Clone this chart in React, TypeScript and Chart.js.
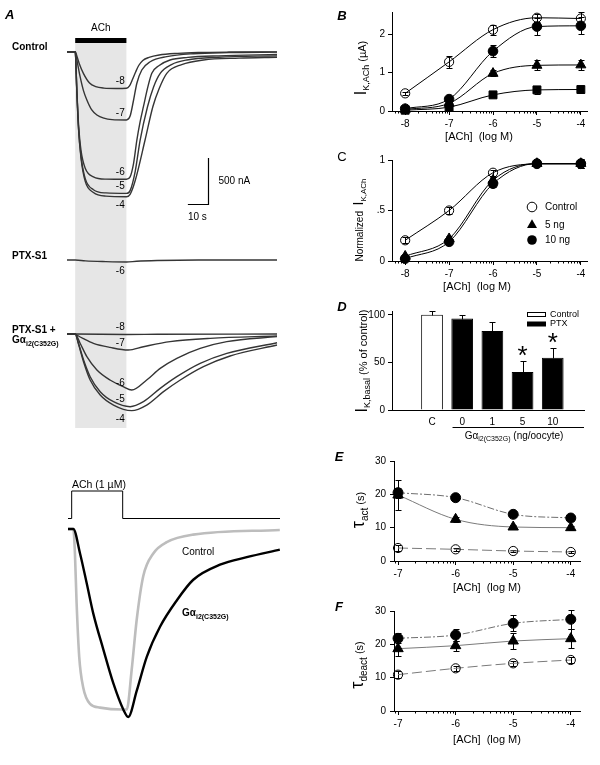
import React, { useEffect, useRef } from "react";
import { Chart, registerables } from "chart.js";

Chart.register(...registerables);

const FONT = "'Liberation Sans', Arial, Helvetica, sans-serif";

// ---------------- Panel A (top): ACh-evoked currents [time (s), current (nA)] ----------------
const achOn = 0;
const achOff = 25;
const tagTime = 22;
const ctrlM8 = [[-4, 0], [0, 0], [1, -60], [2, -130], [4, -235], [7, -340], [10, -380], [14, -396], [20, -400], [25, -398], [26.5, -372], [28, -300], [29.5, -220], [31, -150], [33, -95], [36, -62], [41, -36], [50, -18], [60, -9], [75, -4], [98.5, -2]];
const ctrlM7 = [[-4, 0], [0, 0], [1, -110], [2.4, -272], [4, -420], [5.7, -525], [8, -630], [10.6, -688], [14, -722], [18, -738], [25, -742], [26.8, -700], [28.5, -525], [30.1, -343], [32.5, -199], [36.6, -109], [44.7, -54], [57.7, -22], [75, -10], [98.5, -5]];
const ctrlM6 = [[-4, 0], [0, 0], [0.8, -416], [1.6, -778], [2.8, -1068], [4.9, -1268], [8.9, -1360], [15, -1385], [25, -1387], [26.8, -1360], [28.5, -1213], [30.1, -960], [31.7, -760], [33.3, -598], [35.5, -380], [37.4, -235], [41, -150], [46.3, -90], [55, -62], [70, -45], [98.5, -30]];
const ctrlM5 = [[-4, 0], [0, 0], [0.8, -430], [1.6, -820], [2.8, -1130], [4.9, -1380], [8.9, -1500], [15, -1535], [25, -1540], [26.8, -1510], [29.3, -1300], [31.7, -960], [35.3, -598], [38.3, -380], [41.5, -235], [47, -140], [54.5, -90], [70, -60], [98.5, -45]];
const ctrlM4 = [[-4, 0], [0, 0], [0.8, -430], [1.6, -830], [2.8, -1150], [4.9, -1410], [8.9, -1530], [15, -1570], [25, -1576], [26.8, -1550], [29.3, -1400], [34.1, -960], [37.9, -598], [41, -400], [44.7, -235], [52, -140], [62.6, -90], [80, -70], [98.5, -60]];
const controlTraces = [ctrlM8, ctrlM7, ctrlM6, ctrlM5, ctrlM4];
const controlTags = ["-8", "-7", "-6", "-5", "-4"];
const controlTagBelow = [false, false, false, false, true];

const ptxM6 = [[-4, 0], [0, 0], [5, -10], [15, -18], [25, -22], [30, -14], [40, -6], [60, 0], [98.5, 0]];
const ptxTag = "-6";

const gM8 = [[-4, 0], [0, 0], [25, -5], [40, -3], [98.5, 0]];
const gM7 = [[-4, 0], [0, 0], [0.8, -11], [4, -50], [8.9, -101], [17, -145], [25.9, -174], [33.3, -138], [46.3, -83], [65.9, -47], [98.5, -22]];
const gM6 = [[-4, 0], [0, 0], [2.4, -101], [5.7, -246], [10.6, -391], [17, -500], [23.4, -572], [27.6, -609], [34.9, -500], [41.5, -373], [49.6, -264], [61, -156], [74, -83], [98.5, -29]];
const gM5 = [[-4, 0], [0, 0], [1.6, -101], [4.1, -283], [7.3, -464], [12.2, -627], [18.7, -736], [26.8, -790], [33.3, -736], [41.5, -591], [49.6, -464], [61, -319], [74, -210], [98.5, -95]];
const gM4 = [[-4, 0], [0, 0], [1.6, -109], [4.1, -304], [7.3, -500], [12.2, -663], [18.7, -772], [27.6, -833], [34.9, -772], [43.1, -627], [51.3, -500], [62.6, -355], [75.6, -239], [98.5, -120]];
const gTraces = [gM8, gM7, gM6, gM5, gM4];
const gTags = ["-8", "-7", "-6", "-5", "-4"];
const gTagBelow = [false, false, false, false, true];

const scaleBarT = 65; // s (end of horizontal bar)
const scaleBarI = -1655; // nA (corner)
const scaleBarSec = 10;
const scaleBarNA = 500;

// ---------------- Panel A (bottom): normalized currents, 1 µM ACh ----------------
const stimTime = [-1.8, 0, 25, 102.1];
const stimLevel = [0, 1, 0, 0];
const normControl = [[-1.8, 0], [0.8, 0], [1.6, -0.13], [2.4, -0.39], [3.7, -0.68], [5.6, -0.84], [9, -0.93], [13.9, -0.95], [25, -0.96], [27, -0.96], [29.4, -0.75], [31.9, -0.48], [35.1, -0.25], [40, -0.13], [46.6, -0.07], [59.5, -0.03], [102, -0.005]];
const normGai2 = [[-1.8, 0], [0.8, 0], [4.1, -0.13], [7.4, -0.29], [10.6, -0.45], [15.5, -0.64], [20.4, -0.82], [25.3, -0.96], [27.7, -1.0], [31.9, -0.86], [36.8, -0.68], [43.3, -0.52], [51.5, -0.38], [59.6, -0.27], [72.7, -0.19], [85.8, -0.15], [102, -0.11]];

// ---------------- Panel B / C ----------------
const logConc = [-8, -7, -6, -5, -4];
const bControl = [0.46, 1.28, 2.12, 2.43, 2.41];
const bControlErr = [0.04, 0.16, 0.13, 0.1, 0.16];
const bCircle = [0.06, 0.31, 1.56, 2.2, 2.22];
const bCircleErr = [0, 0.05, 0.16, 0.23, 0.22];
const bTriangle = [0.04, 0.2, 0.98, 1.19, 1.2];
const bTriangleErr = [0, 0.03, 0.08, 0.13, 0.13];
const bSquare = [0.02, 0.1, 0.42, 0.55, 0.56];
const bSquareErr = [0, 0.02, 0.05, 0.1, 0.08];

const cControl = [0.205, 0.5, 0.874, 0.96, 0.96];
const cControlErr = [0.03, 0.03, 0.03, 0.02, 0.04];
const c5ng = [0.047, 0.22, 0.8, 0.965, 0.965];
const c5ngErr = [0, 0.03, 0.03, 0.02, 0.04];
const c10ng = [0.023, 0.19, 0.765, 0.965, 0.965];
const c10ngErr = [0, 0.02, 0.03, 0.02, 0.04];
const cLegendLabels = ["Control", "5 ng", "10 ng"];

// ---------------- Panel D ----------------
const dLabels = ["C", "0", "1", "5", "10"];
const dValues = [100, 96, 83, 40, 55];
const dErr = [3.5, 4, 9, 12, 10];
const dIsControl = [true, false, false, false, false];
const dSignificant = [false, false, false, true, true];
const dLegendLabels = ["Control", "PTX"];

// ---------------- Panel E / F ----------------
const tauConc = [-7, -6, -5, -4];
const eCircle = [20.5, 19.0, 14.0, 12.9];
const eCircleErr = [1.5, 0.8, 0.8, 1];
const eTriangle = [19.8, 12.5, 10.2, 10.0];
const eTriangleErr = [4.5, 0.8, 0.6, 0.6];
const eControl = [3.9, 3.5, 3.0, 2.7];
const eControlErr = [1, 0.5, 0.4, 0.4];

const fCircle = [21.8, 22.8, 26.3, 27.5];
const fCircleErr = [1.5, 1.8, 2.4, 2.8];
const fTriangle = [18.7, 19.6, 21.0, 21.7];
const fTriangleErr = [2.2, 1.5, 2.5, 2.8];
const fControl = [10.9, 12.8, 14.3, 15.3];
const fControlErr = [1, 0.8, 0.8, 0.8];

// ---------------- helpers ----------------
type Pt = { x: number; y: number };
const toPts = (arr: number[][]): Pt[] => arr.map(([x, y]) => ({ x, y }));
const zipPts = (xs: number[], ys: number[]): Pt[] => xs.map((x, i) => ({ x, y: ys[i] }));

const baseOptions = () => ({
  responsive: false,
  maintainAspectRatio: false,
  animation: false,
  events: [],
  devicePixelRatio: 1,
  plugins: { legend: { display: false }, tooltip: { enabled: false } },
});

function drawMarker(ctx: CanvasRenderingContext2D, style: string, x: number, y: number, r: number) {
  ctx.beginPath();
  if (style === "triangle") {
    for (let k = 0; k < 3; k++) {
      const a = (k * 2 * Math.PI) / 3;
      const px = x + Math.sin(a) * r;
      const py = y - Math.cos(a) * r;
      if (k === 0) ctx.moveTo(px, py);
      else ctx.lineTo(px, py);
    }
    ctx.closePath();
    ctx.fill();
  } else {
    ctx.arc(x, y, r, 0, Math.PI * 2);
    if (style === "open") ctx.stroke();
    else ctx.fill();
  }
}

function errorBars(after: boolean, upOnly: boolean) {
  const draw = (chart: any) => {
    const ctx = chart.ctx;
    ctx.save();
    ctx.strokeStyle = "#000";
    ctx.lineWidth = 1;
    chart.data.datasets.forEach((ds: any, i: number) => {
      if (!ds.errors) return;
      const meta = chart.getDatasetMeta(i);
      const xs = chart.scales[meta.xAxisID];
      const ys = chart.scales[meta.yAxisID];
      ds.data.forEach((p: Pt, j: number) => {
        const e = ds.errors[j];
        if (!e) return;
        const x = Math.round(xs.getPixelForValue(p.x)) + 0.5;
        const yTop = Math.round(ys.getPixelForValue(p.y + e)) + 0.5;
        const yBot = Math.round(ys.getPixelForValue(upOnly ? p.y : p.y - e)) + 0.5;
        ctx.beginPath();
        ctx.moveTo(x, yTop);
        ctx.lineTo(x, yBot);
        ctx.moveTo(x - 3, yTop);
        ctx.lineTo(x + 3, yTop);
        if (!upOnly) {
          ctx.moveTo(x - 3, yBot);
          ctx.lineTo(x + 3, yBot);
        }
        ctx.stroke();
      });
    });
    ctx.restore();
  };
  return after ? { id: "errAfter", afterDatasetsDraw: draw } : { id: "errBefore", beforeDatasetsDraw: draw };
}

const minorTicks = {
  id: "minorTicks",
  afterDraw(chart: any) {
    const s = chart.scales.x;
    const ctx = chart.ctx;
    ctx.save();
    ctx.strokeStyle = "#000";
    ctx.lineWidth = 1;
    ctx.beginPath();
    for (let d = Math.floor(s.min) - 1; d <= Math.ceil(s.max); d++) {
      for (let k = 2; k <= 9; k++) {
        const v = d + Math.log10(k);
        if (v < s.min || v > s.max) continue;
        const x = Math.round(s.getPixelForValue(v)) + 0.5;
        ctx.moveTo(x, s.top);
        ctx.lineTo(x, s.top + 2.5);
      }
    }
    ctx.stroke();
    ctx.restore();
  },
};

function axis(opts: any) {
  const { min, max, step, size, horizontal, tickPadding = 3, callback, tickColor = "#000" } = opts;
  return {
    type: "linear",
    min,
    max,
    grid: { display: true, drawOnChartArea: false, drawTicks: true, tickLength: 4, color: "#000", tickColor, lineWidth: 1 },
    border: { display: true, color: "#000", width: 1 },
    ticks: {
      stepSize: step,
      includeBounds: false,
      autoSkip: false,
      maxRotation: 0,
      minRotation: 0,
      color: "#000",
      padding: tickPadding,
      font: { family: FONT, size: 10 },
      ...(callback ? { callback } : {}),
    },
    afterFit: (s: any) => {
      if (horizontal) s.height = size;
      else s.width = size;
    },
  };
}

function series(xs: number[], ys: number[], style: string, errors: number[], lineColor = "#000", dash: number[] = [], r?: number) {
  const ds: any = {
    data: zipPts(xs, ys),
    showLine: true,
    borderColor: lineColor,
    borderWidth: 1,
    borderDash: dash,
    cubicInterpolationMode: "monotone",
    clip: false,
    fill: false,
    pointBorderColor: "#000",
    pointBorderWidth: 1,
    errors,
  };
  if (style === "open") {
    ds.pointStyle = "circle";
    ds.pointRadius = r ?? 4.6;
    ds.pointBackgroundColor = "rgba(0,0,0,0)";
  } else if (style === "filled") {
    ds.pointStyle = "circle";
    ds.pointRadius = r ?? 4.8;
    ds.pointBackgroundColor = "#000";
  } else if (style === "triangle") {
    ds.pointStyle = "triangle";
    ds.pointRadius = r ?? 5.8;
    ds.pointBackgroundColor = "#000";
  } else {
    ds.pointStyle = "rect";
    ds.pointRadius = r ?? 5.6;
    ds.pointBackgroundColor = "#000";
  }
  return ds;
}

// ---------------- chart configs ----------------
const aTopPlugin = {
  id: "aTop",
  beforeDatasetsDraw(chart: any) {
    const { ctx, chartArea, scales } = chart;
    const x0 = scales.x.getPixelForValue(achOn);
    const x1 = scales.x.getPixelForValue(achOff);
    ctx.save();
    ctx.fillStyle = "#e6e6e6";
    ctx.fillRect(x0, chartArea.top, x1 - x0, chartArea.bottom - chartArea.top);
    ctx.fillStyle = "#000";
    ctx.fillRect(x0, chartArea.top - 5, x1 - x0, 5);
    ctx.font = `10px ${FONT}`;
    ctx.textAlign = "center";
    ctx.textBaseline = "middle";
    ctx.fillText("ACh", (x0 + x1) / 2, chartArea.top - 15);
    ctx.restore();
  },
  afterDatasetsDraw(chart: any) {
    const { ctx, scales } = chart;
    ctx.save();
    ctx.fillStyle = "#000";
    ctx.font = `10px ${FONT}`;
    ctx.textAlign = "center";
    ctx.textBaseline = "middle";
    chart.data.datasets.forEach((ds: any, i: number) => {
      if (!ds.tag) return;
      const meta = chart.getDatasetMeta(i);
      const ys = scales[meta.yAxisID];
      const peak = Math.min(...ds.data.map((p: Pt) => p.y));
      const y = ys.getPixelForValue(peak) + (ds.tagBelow ? 9 : -7);
      ctx.fillText(ds.tag, scales.x.getPixelForValue(tagTime), y);
    });
    // scale bars
    const xs = scales.x;
    const yc = scales.yc;
    const bx0 = xs.getPixelForValue(scaleBarT - scaleBarSec);
    const bx1 = Math.round(xs.getPixelForValue(scaleBarT)) + 0.5;
    const by0 = Math.round(yc.getPixelForValue(scaleBarI)) + 0.5;
    const by1 = yc.getPixelForValue(scaleBarI + scaleBarNA);
    ctx.strokeStyle = "#000";
    ctx.lineWidth = 1.2;
    ctx.beginPath();
    ctx.moveTo(bx0, by0);
    ctx.lineTo(bx1, by0);
    ctx.lineTo(bx1, by1);
    ctx.stroke();
    ctx.textAlign = "left";
    ctx.fillText(`${scaleBarNA} nA`, bx1 + 10, (by0 + by1) / 2);
    ctx.fillText(`${scaleBarSec} s`, bx0, by0 + 13);
    ctx.restore();
  },
};

function makeATop() {
  const top = 43;
  const bottom = 428;
  const pxPerNA = 0.092;
  const yRange = (basePx: number) => {
    const max = (basePx - top) / pxPerNA;
    return { min: max - (bottom - top) / pxPerNA, max };
  };
  const trace = (arr: number[][], yAxisID: string, tag: string, below: boolean) => ({
    data: toPts(arr),
    yAxisID,
    borderColor: "#353535",
    borderWidth: 1.4,
    pointRadius: 0,
    cubicInterpolationMode: "monotone",
    clip: false,
    fill: false,
    tag,
    tagBelow: below,
  });
  return {
    type: "line",
    data: {
      datasets: [
        ...controlTraces.map((t, i) => trace(t, "yc", controlTags[i], controlTagBelow[i])),
        trace(ptxM6, "yp", ptxTag, true),
        ...gTraces.map((t, i) => trace(t, "yg", gTags[i], gTagBelow[i])),
      ],
    },
    options: {
      ...baseOptions(),
      layout: { padding: { left: 67, right: 23, top, bottom: 440 - bottom } },
      scales: {
        x: { type: "linear", min: -4, max: 98.5, display: false },
        yc: { type: "linear", display: false, ...yRange(51.7) },
        yp: { type: "linear", display: false, ...yRange(260) },
        yg: { type: "linear", display: false, ...yRange(334) },
      },
    },
    plugins: [aTopPlugin],
  };
}

function makeABottom() {
  const top = 31;
  const bottom = 260;
  const base = 69;
  const pxPerUnit = 188;
  const yMax = (base - top) / pxPerUnit;
  const stimPxPerUnit = 27.5;
  const line = (arr: number[][], color: string, w: number) => ({
    data: toPts(arr),
    yAxisID: "y",
    borderColor: color,
    borderWidth: w,
    pointRadius: 0,
    cubicInterpolationMode: "monotone",
    clip: false,
    fill: false,
  });
  return {
    type: "line",
    data: {
      datasets: [
        line(normGai2, "#000", 2.4),
        line(normControl, "#bdbdbd", 2.6),
        {
          data: zipPts(stimTime, stimLevel),
          yAxisID: "ys",
          stepped: true,
          borderColor: "#000",
          borderWidth: 1,
          pointRadius: 0,
          clip: false,
          fill: false,
        },
      ],
    },
    options: {
      ...baseOptions(),
      layout: { padding: { left: 68, right: 20, top, bottom: 305 - bottom } },
      scales: {
        x: { type: "linear", min: -1.8, max: 102.1, display: false },
        y: { type: "linear", display: false, max: yMax, min: yMax - (bottom - top) / pxPerUnit },
        ys: { type: "linear", display: false, max: 1, min: 1 - (bottom - top) / stimPxPerUnit },
      },
    },
  };
}

function xyConfig(o: any) {
  return {
    type: o.type || "line",
    data: { datasets: o.datasets },
    options: {
      ...baseOptions(),
      layout: { padding: { left: 0, bottom: 0, ...o.padding } },
      scales: {
        x: axis({ ...o.x, horizontal: true }),
        y: axis({ ...o.y, horizontal: false }),
      },
    },
    plugins: o.plugins,
  };
}

function makeB() {
  return xyConfig({
    datasets: [
      series(logConc, bControl, "open", bControlErr),
      series(logConc, bCircle, "filled", bCircleErr),
      series(logConc, bTriangle, "triangle", bTriangleErr),
      series(logConc, bSquare, "square", bSquareErr),
    ],
    x: { min: -8.3, max: -3.86, step: 1, size: 39 },
    y: { min: 0, max: 2.58, step: 1, size: 62 },
    padding: { top: 12, right: 13 },
    plugins: [errorBars(false, false), minorTicks],
  });
}

const cLegendPlugin = {
  id: "cLegend",
  afterDraw(chart: any) {
    const { ctx, chartArea } = chart;
    const styles = ["open", "triangle", "filled"];
    const offs = [47, 65, 80];
    ctx.save();
    ctx.fillStyle = "#000";
    ctx.strokeStyle = "#000";
    ctx.lineWidth = 1;
    ctx.font = `10px ${FONT}`;
    ctx.textAlign = "left";
    ctx.textBaseline = "middle";
    cLegendLabels.forEach((lab, k) => {
      const x = chartArea.left + 140;
      const y = chartArea.top + offs[k];
      drawMarker(ctx, styles[k], x, y, styles[k] === "triangle" ? 5.8 : 4.8);
      ctx.fillText(lab, x + 13, y);
    });
    ctx.restore();
  },
};

function makeC() {
  return xyConfig({
    datasets: [
      series(logConc, cControl, "open", cControlErr),
      series(logConc, c5ng, "triangle", c5ngErr),
      series(logConc, c10ng, "filled", c10ngErr),
    ],
    x: { min: -8.3, max: -3.86, step: 1, size: 39 },
    y: { min: 0, max: 1, step: 0.5, size: 62, callback: (v: number) => (v === 0.5 ? ".5" : String(v)) },
    padding: { top: 10, right: 13 },
    plugins: [errorBars(false, false), minorTicks, cLegendPlugin],
  });
}

const dPlugin = {
  id: "dExtras",
  afterDraw(chart: any) {
    const { ctx, chartArea, scales } = chart;
    ctx.save();
    ctx.fillStyle = "#000";
    ctx.strokeStyle = "#000";
    ctx.lineWidth = 1;
    // legend
    const lx = chartArea.left + 135;
    const boxW = 19;
    const rows = [chartArea.top + 1, chartArea.top + 10.5];
    dLegendLabels.forEach((lab, k) => {
      const y = rows[k];
      if (k === 0) {
        ctx.fillStyle = "#fff";
        ctx.fillRect(lx, y, boxW, 5);
        ctx.strokeRect(lx + 0.5, y + 0.5, boxW - 1, 4);
      } else {
        ctx.fillStyle = "#000";
        ctx.fillRect(lx, y, boxW, 5);
      }
      ctx.fillStyle = "#000";
      ctx.font = `9px ${FONT}`;
      ctx.textAlign = "left";
      ctx.textBaseline = "middle";
      ctx.fillText(lab, lx + boxW + 4, y + 2.5);
    });
    // significance asterisks
    ctx.font = `26px ${FONT}`;
    ctx.textAlign = "center";
    ctx.textBaseline = "alphabetic";
    const m = ctx.measureText("*");
    const asc = m.actualBoundingBoxAscent || 18;
    const desc = m.actualBoundingBoxDescent || -8;
    dValues.forEach((v, i) => {
      if (!dSignificant[i]) return;
      const x = scales.x.getPixelForValue(i);
      const yc = scales.y.getPixelForValue(v + dErr[i]) - 10;
      ctx.fillText("*", x, yc + (asc - desc) / 2);
    });
    // group underline for Gα doses
    const gy = Math.round(chartArea.bottom + 17) + 0.5;
    ctx.beginPath();
    ctx.moveTo(scales.x.getPixelForValue(0.68), gy);
    ctx.lineTo(scales.x.right, gy);
    ctx.stroke();
    ctx.restore();
  },
};

function makeD() {
  return xyConfig({
    type: "bar",
    datasets: [
      {
        data: dValues.map((v, i) => ({ x: i, y: v })),
        backgroundColor: dIsControl.map((c) => (c ? "#fff" : "#000")),
        borderColor: "#000",
        borderWidth: 1,
        barPercentage: 0.72,
        categoryPercentage: 1,
        errors: dErr,
      },
    ],
    x: {
      min: -0.69,
      max: 4.4,
      step: 1,
      size: 35,
      tickPadding: 2,
      tickColor: "rgba(0,0,0,0)",
      callback: (v: number) => dLabels[v] ?? "",
    },
    y: { min: 0, max: 104, step: 50, size: 62 },
    padding: { top: 11, right: 16 },
    plugins: [errorBars(true, true), dPlugin],
  });
}

function makeTau(circle: number[], circleErr: number[], tri: number[], triErr: number[], ctrl: number[], ctrlErr: number[], top: number, xHeight: number) {
  return xyConfig({
    datasets: [
      series(tauConc, circle, "filled", circleErr, "#6e6e6e", [7, 2, 2, 2], 5),
      series(tauConc, tri, "triangle", triErr, "#7a7a7a", [], 6),
      series(tauConc, ctrl, "open", ctrlErr, "#7a7a7a", [10, 4], 4.6),
    ],
    x: { min: -7.07, max: -3.84, step: 1, size: xHeight },
    y: { min: 0, max: 30, step: 10, size: 64, tickPadding: 4 },
    padding: { top, right: 20 },
    plugins: [errorBars(false, false), minorTicks],
  });
}

// ---------------- React ----------------
function ChartCanvas({ left, top, width, height, make }: { left: number; top: number; width: number; height: number; make: () => any }) {
  const ref = useRef<HTMLCanvasElement | null>(null);
  useEffect(() => {
    if (!ref.current) return;
    const chart = new Chart(ref.current, make());
    return () => chart.destroy();
  }, []);
  return <canvas ref={ref} width={width} height={height} style={{ position: "absolute", left, top, width, height }} />;
}

const Sub = ({ children, size = 8, drop = 3 }: any) => (
  <span style={{ fontSize: size, position: "relative", top: drop }}>{children}</span>
);

function LText({ x, cy, children, style }: any) {
  return (
    <div style={{ position: "absolute", left: x, top: cy, transform: "translateY(-50%)", whiteSpace: "nowrap", lineHeight: 1, fontSize: 10, ...style }}>
      {children}
    </div>
  );
}

function CText({ cx, cy, children, style }: any) {
  return (
    <div style={{ position: "absolute", left: cx, top: cy, transform: "translate(-50%,-50%)", whiteSpace: "nowrap", lineHeight: 1, fontSize: 10, ...style }}>
      {children}
    </div>
  );
}

function VTitle({ cx, cy, children, size = 11 }: any) {
  return (
    <div style={{ position: "absolute", left: cx, top: cy, transform: "translate(-50%,-50%) rotate(-90deg)", whiteSpace: "nowrap", lineHeight: 1, fontSize: size }}>
      {children}
    </div>
  );
}

const panelLetter = { fontSize: 13, fontStyle: "italic", fontWeight: 600 };

export default function App() {
  return (
    <div style={{ position: "absolute", left: 0, top: 0, width: 600, height: 765, background: "#fff", overflow: "hidden", fontFamily: FONT, color: "#000" }}>
      <ChartCanvas left={0} top={0} width={300} height={440} make={makeATop} />
      <ChartCanvas left={0} top={460} width={300} height={305} make={makeABottom} />
      <ChartCanvas left={330} top={0} width={270} height={150} make={makeB} />
      <ChartCanvas left={330} top={150} width={270} height={150} make={makeC} />
      <ChartCanvas left={330} top={300} width={270} height={145} make={makeD} />
      <ChartCanvas left={330} top={445} width={270} height={155} make={() => makeTau(eCircle, eCircleErr, eTriangle, eTriangleErr, eControl, eControlErr, 16, 39)} />
      <ChartCanvas left={330} top={600} width={270} height={165} make={() => makeTau(fCircle, fCircleErr, fTriangle, fTriangleErr, fControl, fControlErr, 11, 54)} />

      {/* Panel A labels */}
      <LText x={5} cy={14} style={panelLetter}>A</LText>
      <LText x={12} cy={47} style={{ fontWeight: 700 }}>Control</LText>
      <LText x={12} cy={256} style={{ fontWeight: 700 }}>PTX-S1</LText>
      <LText x={12} cy={330} style={{ fontWeight: 700 }}>PTX-S1 +</LText>
      <LText x={12} cy={340} style={{ fontWeight: 700 }}>
        Gα<Sub size={7} drop={3}>i2(C352G)</Sub>
      </LText>
      <LText x={72} cy={484} style={{ fontSize: 10.5 }}>ACh (1 µM)</LText>
      <LText x={182} cy={552}>Control</LText>
      <LText x={182} cy={613} style={{ fontWeight: 700 }}>
        Gα<Sub size={7} drop={3}>i2(C352G)</Sub>
      </LText>

      {/* Panel B */}
      <CText cx={342} cy={15} style={panelLetter}>B</CText>
      <VTitle cx={361} cy={68}>
        <span style={{ fontSize: 16 }}>I</span>
        <Sub size={9} drop={3}>K,ACh</Sub> (µA)
      </VTitle>
      <CText cx={479} cy={136} style={{ fontSize: 11 }}>[ACh]&nbsp; (log M)</CText>

      {/* Panel C */}
      <CText cx={342} cy={156} style={{ fontSize: 13 }}>C</CText>
      <VTitle cx={358} cy={220} size={10}>
        Normalized&nbsp; <span style={{ fontSize: 14 }}>I</span>
        <Sub size={8} drop={3}>K,ACh</Sub>
      </VTitle>
      <CText cx={477} cy={286} style={{ fontSize: 11 }}>[ACh]&nbsp; (log M)</CText>

      {/* Panel D */}
      <CText cx={342} cy={306} style={panelLetter}>D</CText>
      <VTitle cx={362} cy={361}>
        <span style={{ fontSize: 16 }}>I</span>
        <Sub size={9} drop={3}>K,basal</Sub> (% of control)
      </VTitle>
      <CText cx={514} cy={436}>
        Gα<Sub size={7} drop={2}>i2(C352G)</Sub> (ng/oocyte)
      </CText>

      {/* Panel E */}
      <CText cx={339} cy={456} style={panelLetter}>E</CText>
      <VTitle cx={358} cy={510}>
        <span style={{ fontSize: 18 }}>τ</span>
        <Sub size={10} drop={4}>act</Sub> (s)
      </VTitle>
      <CText cx={487} cy={587} style={{ fontSize: 11 }}>[ACh]&nbsp; (log M)</CText>

      {/* Panel F */}
      <CText cx={339} cy={606} style={panelLetter}>F</CText>
      <VTitle cx={357} cy={665}>
        <span style={{ fontSize: 18 }}>τ</span>
        <Sub size={10} drop={4}>deact</Sub> (s)
      </VTitle>
      <CText cx={487} cy={739} style={{ fontSize: 11 }}>[ACh]&nbsp; (log M)</CText>
    </div>
  );
}
